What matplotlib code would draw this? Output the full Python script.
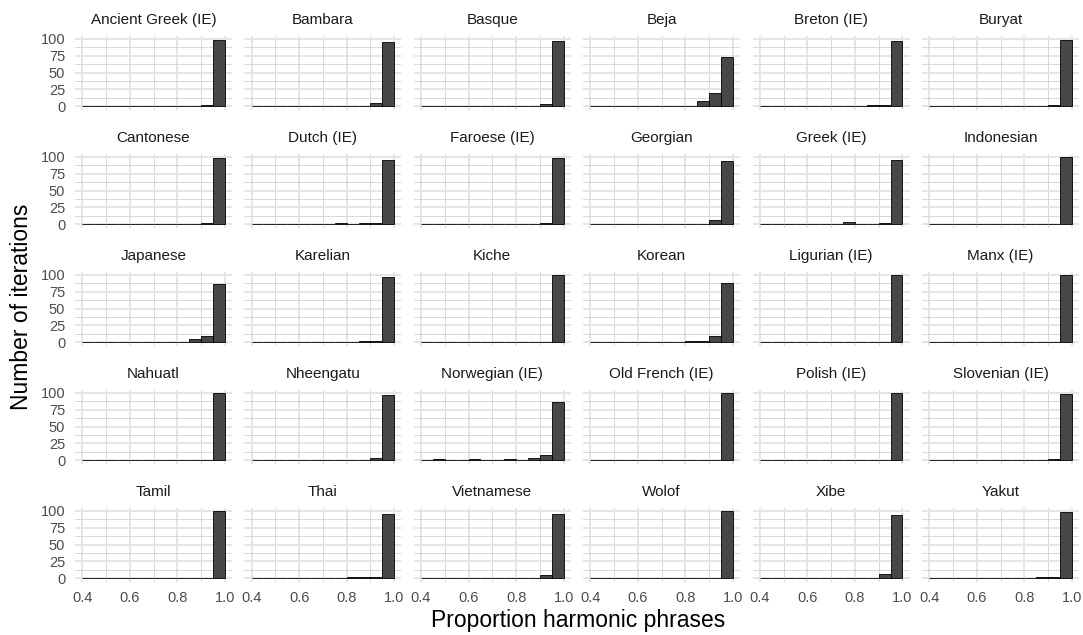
import matplotlib
matplotlib.use("Agg")
import matplotlib.pyplot as plt
import numpy as np

# Histogram bins (left edges), width 0.05
bin_left = [0.40, 0.45, 0.50, 0.55, 0.60, 0.65, 0.70, 0.75, 0.80, 0.85, 0.90, 0.95]
bin_width = 0.05

languages = [
    "Ancient Greek (IE)", "Bambara", "Basque", "Beja", "Breton (IE)", "Buryat",
    "Cantonese", "Dutch (IE)", "Faroese (IE)", "Georgian", "Greek (IE)", "Indonesian",
    "Japanese", "Karelian", "Kiche", "Korean", "Ligurian (IE)", "Manx (IE)",
    "Nahuatl", "Nheengatu", "Norwegian (IE)", "Old French (IE)", "Polish (IE)", "Slovenian (IE)",
    "Tamil", "Thai", "Vietnamese", "Wolof", "Xibe", "Yakut",
]

# Number of iterations per bin, one row per language
counts = [
    [0, 0, 0, 0, 0, 0, 0, 0, 0, 0, 2, 98],   # Ancient Greek
    [0, 0, 0, 0, 0, 0, 0, 0, 0, 0, 4, 96],   # Bambara
    [0, 0, 0, 0, 0, 0, 0, 0, 0, 0, 3, 97],   # Basque
    [0, 0, 0, 0, 0, 0, 0, 0, 0, 7, 20, 73],  # Beja
    [0, 0, 0, 0, 0, 0, 0, 0, 0, 1, 2, 97],   # Breton
    [0, 0, 0, 0, 0, 0, 0, 0, 0, 0, 2, 98],   # Buryat
    [0, 0, 0, 0, 0, 0, 0, 0, 0, 0, 2, 98],   # Cantonese
    [0, 0, 0, 0, 0, 0, 0, 1, 0, 2, 2, 95],   # Dutch
    [0, 0, 0, 0, 0, 0, 0, 0, 0, 0, 2, 98],   # Faroese
    [0, 0, 0, 0, 0, 0, 0, 0, 0, 0, 6, 94],   # Georgian
    [0, 0, 0, 0, 0, 0, 0, 3, 0, 0, 2, 95],   # Greek
    [0, 0, 0, 0, 0, 0, 0, 0, 0, 0, 0, 100],  # Indonesian
    [0, 0, 0, 0, 0, 0, 0, 0, 0, 5, 9, 86],   # Japanese
    [0, 0, 0, 0, 0, 0, 0, 0, 0, 1, 2, 97],   # Karelian
    [0, 0, 0, 0, 0, 0, 0, 0, 0, 0, 0, 100],  # Kiche
    [0, 0, 0, 0, 0, 0, 0, 0, 1, 2, 9, 88],   # Korean
    [0, 0, 0, 0, 0, 0, 0, 0, 0, 0, 0, 100],  # Ligurian
    [0, 0, 0, 0, 0, 0, 0, 0, 0, 0, 0, 100],  # Manx
    [0, 0, 0, 0, 0, 0, 0, 0, 0, 0, 0, 100],  # Nahuatl
    [0, 0, 0, 0, 0, 0, 0, 0, 0, 0, 3, 97],   # Nheengatu
    [0, 1, 0, 0, 1, 0, 0, 1, 0, 3, 7, 87],   # Norwegian
    [0, 0, 0, 0, 0, 0, 0, 0, 0, 0, 0, 100],  # Old French
    [0, 0, 0, 0, 0, 0, 0, 0, 0, 0, 0, 100],  # Polish
    [0, 0, 0, 0, 0, 0, 0, 0, 0, 0, 2, 98],   # Slovenian
    [0, 0, 0, 0, 0, 0, 0, 0, 0, 0, 0, 100],  # Tamil
    [0, 0, 0, 0, 0, 0, 0, 0, 1, 1, 2, 96],   # Thai
    [0, 0, 0, 0, 0, 0, 0, 0, 0, 0, 5, 95],   # Vietnamese
    [0, 0, 0, 0, 0, 0, 0, 0, 0, 0, 0, 100],  # Wolof
    [0, 0, 0, 0, 0, 0, 0, 0, 0, 0, 6, 94],   # Xibe
    [0, 0, 0, 0, 0, 0, 0, 0, 0, 1, 1, 98],   # Yakut
]

x_ticks = [0.4, 0.6, 0.8, 1.0]
x_tick_labels = ["0.4", "0.6", "0.8", "1.0"]
y_ticks = [0, 25, 50, 75, 100]

plt.rcParams['font.family'] = ['Liberation Sans', 'DejaVu Sans']

W, H = 1083, 635
fig = plt.figure(figsize=(W / 100, H / 100), dpi=100)

n_rows, n_cols = 5, 6
# Panel geometry in pixels
left0, col_step, panel_w = 75, 169.4, 157
top0, row_step, panel_h = 35.5, 118, 74

for i, lang in enumerate(languages):
    r, c = divmod(i, n_cols)
    x0 = left0 + c * col_step
    y0 = top0 + r * row_step
    ax = fig.add_axes([x0 / W, 1 - (y0 + panel_h) / H, panel_w / W, panel_h / H])

    # Bars (zero-height bins show as a flat line)
    ax.bar(bin_left, counts[i], width=bin_width, align='edge',
           color='#474747', edgecolor='black', linewidth=0.6, zorder=3)

    ax.set_xlim(0.37, 1.03)
    ax.set_ylim(-5, 105)

    # Grid like ggplot minimal theme
    ax.set_xticks(x_ticks)
    ax.set_yticks(y_ticks)
    ax.set_xticks([0.5, 0.7, 0.9], minor=True)
    ax.set_yticks([12.5, 37.5, 62.5, 87.5], minor=True)
    ax.grid(which='major', color='#e3e3e3', linewidth=1.3, zorder=0)
    ax.grid(which='minor', color='#d2d2d2', linewidth=0.6, zorder=0)
    ax.set_axisbelow(True)

    for s in ax.spines.values():
        s.set_visible(False)
    ax.tick_params(which='both', length=0, labelsize=10.5, labelcolor='#4d4d4d')
    ax.tick_params(axis='y', pad=7)
    ax.tick_params(axis='x', pad=7)

    if r == n_rows - 1:
        ax.set_xticklabels(x_tick_labels)
    else:
        ax.set_xticklabels([])
    if c == 0:
        ax.set_yticklabels([str(v) for v in y_ticks])
    else:
        ax.set_yticklabels([])

    ax.set_title(lang, fontsize=11, color='#1a1a1a', pad=8)

fig.text(578 / W, 1 - 620 / H, "Proportion harmonic phrases", fontsize=16.5,
         ha='center', va='center', color='black')
fig.text(22 / W, 1 - 307 / H, "Number of iterations", fontsize=16.5,
         ha='center', va='center', rotation=90, color='black')

fig.savefig("out.png", dpi=100, facecolor='white')
